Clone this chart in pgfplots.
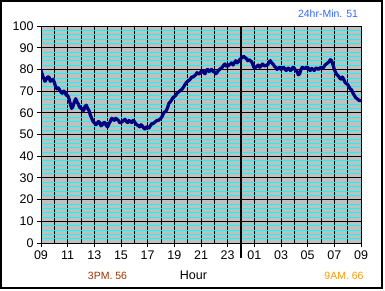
\documentclass[border=0pt]{standalone}
\usepackage{pgfplots}
\pgfplotsset{compat=1.18}
\usepackage{fontspec}
\setmainfont{Liberation Sans}
\definecolor{bggray}{RGB}{192,192,192}
\definecolor{navyline}{RGB}{0,0,128}
\definecolor{minblue}{RGB}{51,102,255}
\definecolor{pmbrown}{RGB}{153,51,0}
\definecolor{amorange}{RGB}{255,153,0}
\definecolor{gridcyan}{RGB}{0,255,255}
\begin{document}
\begin{tikzpicture}[x=1pt,y=1pt]
\path[use as bounding box] (0,0) rectangle (385,290);
\draw[line width=1.2pt] (1,2) rectangle (382,289);
\begin{axis}[
  at={(41pt,47pt)}, anchor=south west,
  width=320pt, height=217pt, scale only axis,
  xmin=0, xmax=24, ymin=0, ymax=100,
  axis background/.style={fill=bggray},
  xtick={0,2,...,24},
  xticklabels={09,11,13,15,17,19,21,23,01,03,05,07,09},
  minor xtick={1,3,...,23},
  ytick={0,10,...,100},
  minor y tick num=4,
  grid=both,
  major grid style={black, line width=0.9pt},
  minor x grid style={black, line width=0.9pt},
  minor y grid style={gridcyan, line width=0.6pt},
  tick align=outside, tick pos=left,
  major tick length=4pt, minor tick length=0pt,
  tick style={black, line width=0.9pt},
  axis line style={black, line width=0.9pt},
  ticklabel style={font=\fontsize{12.5}{14}\selectfont},
  /pgf/number format/assume math mode=true,
  extra x ticks={15}, extra x tick labels={},
  extra x tick style={grid=major, major grid style={black,line width=2.2pt}, major tick length=15pt, tick style={line width=2.2pt}},
]
\addplot[navyline, line width=3.2pt, line join=round, mark=none] coordinates {
(0.0,79.5) (0.1,77.5) (0.2,76) (0.3,74.5) (0.4,75.5) (0.5,76.5) (0.6,76.5) (0.7,74.5) (0.8,75) (0.9,75.5)
(1.0,74) (1.1,72) (1.2,71) (1.3,71.5) (1.4,70.5) (1.5,69.5) (1.6,69) (1.7,70) (1.8,69.5) (1.9,68)
(2.0,68) (2.1,66.5) (2.2,64) (2.3,62) (2.4,63) (2.5,65) (2.6,66.5) (2.7,65) (2.8,64) (2.9,62.5)
(3.0,62) (3.1,62) (3.2,61) (3.3,63) (3.4,63.5) (3.5,62) (3.6,61) (3.7,59) (3.8,57.5) (3.9,56)
(4.0,55.5) (4.1,54.5) (4.2,55) (4.3,56) (4.4,55.5) (4.5,54) (4.6,54.5) (4.7,55.5) (4.8,55.5) (4.9,54)
(5.0,53.5) (5.1,55) (5.2,56) (5.3,57.5) (5.4,57) (5.5,56.5) (5.6,57.5) (5.7,57) (5.8,56.5) (5.9,55.5)
(6.0,55.5) (6.1,56) (6.2,56.5) (6.3,57) (6.4,56) (6.5,55.5) (6.6,56.5) (6.7,56) (6.8,55.5) (6.9,56.5)
(7.0,56) (7.1,55) (7.2,54.5) (7.3,54) (7.4,53.5) (7.5,54.5) (7.6,54) (7.7,53) (7.8,52.5) (7.9,53.5)
(8.0,53.5) (8.1,53) (8.2,54) (8.3,55) (8.4,55) (8.5,55.5) (8.6,56) (8.7,56.5) (8.8,56.5) (8.9,57)
(9.0,57.5) (9.1,58.5) (9.2,60) (9.3,60.5) (9.4,61) (9.5,62.5) (9.6,64.5) (9.7,65) (9.8,66) (9.9,67)
(10.0,67.5) (10.1,68) (10.2,69) (10.3,69.5) (10.4,70) (10.5,70.5) (10.6,71) (10.7,72) (10.8,73) (10.9,74)
(11.0,74.5) (11.1,75) (11.2,75.5) (11.3,76.5) (11.4,76.5) (11.5,77) (11.6,77.5) (11.7,78.5) (11.8,78) (11.9,78)
(12.0,79) (12.1,79.5) (12.2,78.5) (12.3,78) (12.4,79.5) (12.5,80) (12.6,79) (12.7,79.5) (12.8,80) (12.9,79)
(13.0,79) (13.1,78) (13.2,78.5) (13.3,79.5) (13.4,80) (13.5,80.5) (13.6,81) (13.7,82) (13.8,82.5) (13.9,81.5)
(14.0,81.5) (14.1,82) (14.2,82.5) (14.3,83) (14.4,82) (14.5,83) (14.6,84) (14.7,83) (14.8,83.5) (14.9,84.5)
(15.0,85) (15.1,85.5) (15.2,86) (15.3,85.5) (15.4,85) (15.5,84) (15.6,84.5) (15.7,84) (15.8,83.5) (15.9,82)
(16.0,80.5) (16.1,81) (16.2,81.5) (16.3,82) (16.4,81) (16.5,81.5) (16.6,82.5) (16.7,82) (16.8,81.5) (16.9,82)
(17.0,82) (17.1,83.5) (17.2,84) (17.3,83) (17.4,82.5) (17.5,81.5) (17.6,81) (17.7,80) (17.8,80.5) (17.9,81)
(18.0,80) (18.1,80.5) (18.2,81) (18.3,80) (18.4,79.5) (18.5,80.5) (18.6,80.5) (18.7,79.5) (18.8,80) (18.9,81)
(19.0,80.5) (19.1,79.5) (19.2,79) (19.3,77.5) (19.4,78) (19.5,80) (19.6,81) (19.7,80.5) (19.8,80.5) (19.9,81)
(20.0,81) (20.1,80) (20.2,79.5) (20.3,80.5) (20.4,80) (20.5,79.5) (20.6,80.5) (20.7,80.5) (20.8,80) (20.9,80.5)
(21.0,81) (21.1,80.5) (21.2,81) (21.3,82) (21.4,82.5) (21.5,83) (21.6,83.5) (21.7,84.5) (21.8,84) (21.9,82)
(22.0,80) (22.1,78.5) (22.2,77.5) (22.3,77) (22.4,76) (22.5,75.5) (22.6,76.5) (22.7,75.5) (22.8,74) (22.9,73.5)
(23.0,73) (23.1,72) (23.2,71) (23.3,70.5) (23.4,69) (23.5,68) (23.6,67) (23.7,66.5) (23.8,66) (23.9,65.5)
(24.0,66)
};
\end{axis}
\node[font=\fontsize{10.5}{12}\selectfont, text=minblue] at (328,276.5) {24hr-Min. 51};
\node[font=\fontsize{10.5}{12}\selectfont, text=pmbrown] at (107.5,13.7) {3PM. 56};
\node[font=\fontsize{12.5}{14}\selectfont] at (193.5,14.5) {Hour};
\node[font=\fontsize{10.5}{12}\selectfont, text=amorange] at (344,13.7) {9AM. 66};
\end{tikzpicture}
\end{document}
